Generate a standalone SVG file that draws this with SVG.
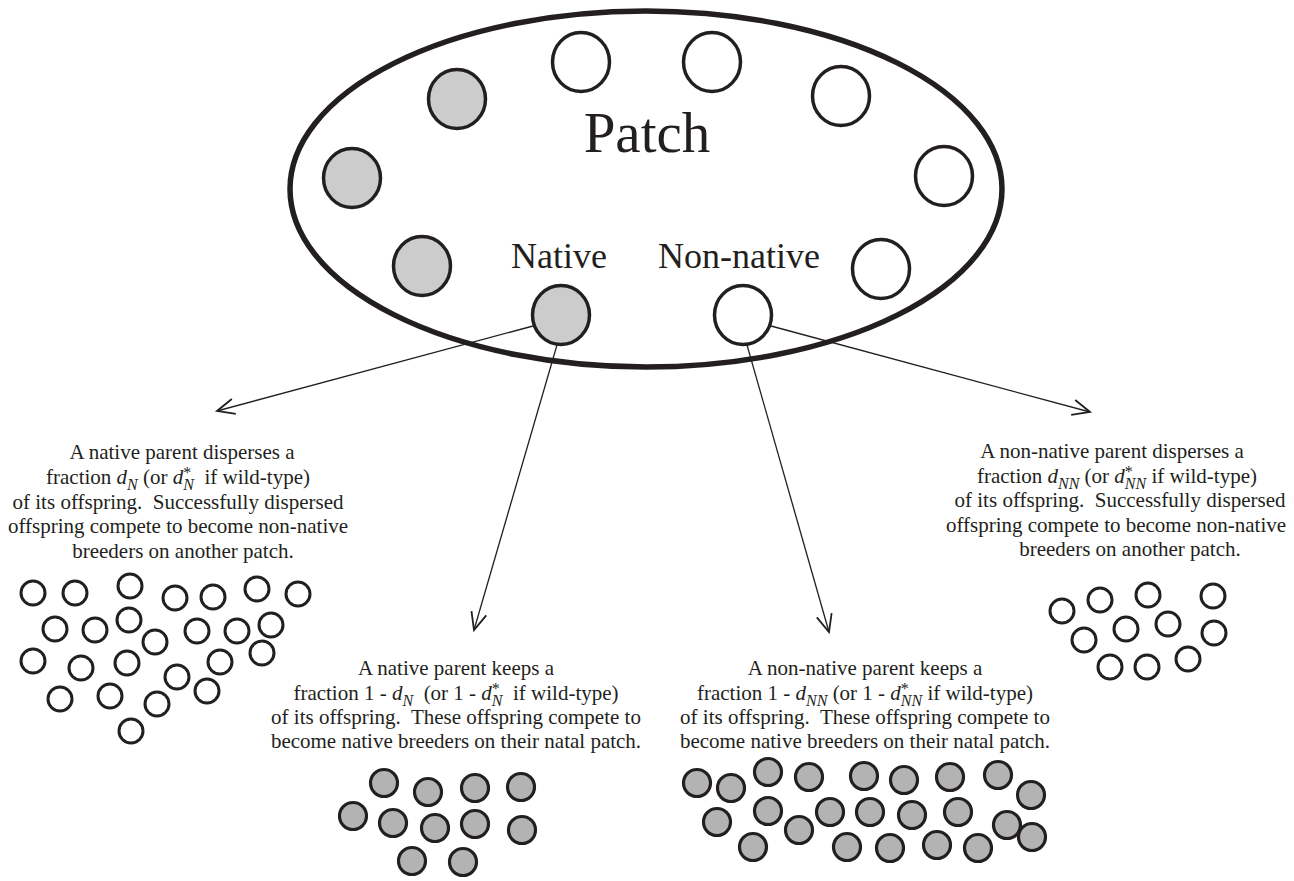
<svg xmlns="http://www.w3.org/2000/svg" width="1294" height="881" viewBox="0 0 1294 881">
<style>
.bg{fill:#ffffff}
.patch{fill:none;stroke:#231f20;stroke-width:5.5}
.pw{fill:#ffffff;stroke:#231f20;stroke-width:3.5}
.pg{fill:#cccccc;stroke:#231f20;stroke-width:3.5}
.cw{fill:#ffffff;stroke:#231f20;stroke-width:3}
.cg{fill:#b3b3b3;stroke:#231f20;stroke-width:3.2}
.conn{fill:none;stroke:#231f20;stroke-width:1.3}
.t{font-family:"Liberation Serif","Times New Roman",serif;font-size:21px;fill:#231f20;text-anchor:middle;white-space:pre}
.big{font-family:"Liberation Serif","Times New Roman",serif;fill:#231f20;text-anchor:middle}
.i{font-style:italic}
.sub{font-size:16px;font-style:italic}
.sup{font-size:16px}
</style>
<defs>
<marker id="arr" markerUnits="userSpaceOnUse" markerWidth="24" markerHeight="22" refX="17.4" refY="9.2" orient="auto" overflow="visible">
<path d="M0,1.5 L17.4,9.2 L0,16.9" fill="none" stroke="#231f20" stroke-width="1.8"/>
</marker>
</defs>
<rect class="bg" x="0" y="0" width="1294" height="881"/>

<g id="patch">
<ellipse class="patch" cx="646" cy="189" rx="356" ry="178"/>
<text class="big" x="647" y="152" font-size="57">Patch</text>
</g>

<g id="connectors">
<line class="conn" x1="533" y1="326" x2="217" y2="411" marker-end="url(#arr)"/>
<line class="conn" x1="557" y1="345" x2="474" y2="630" marker-end="url(#arr)"/>
<line class="conn" x1="747" y1="345" x2="829" y2="632" marker-end="url(#arr)"/>
<line class="conn" x1="771" y1="326" x2="1090" y2="412" marker-end="url(#arr)"/>
</g>

<g id="patch-breeders">
<ellipse class="pg" cx="457" cy="99" rx="28.5" ry="29.5"/>
<ellipse class="pg" cx="352" cy="178" rx="28.5" ry="29.5"/>
<ellipse class="pg" cx="422" cy="266" rx="28.5" ry="29.5"/>
<ellipse class="pw" cx="581" cy="62" rx="28.5" ry="29.5"/>
<ellipse class="pw" cx="712" cy="62" rx="28.5" ry="29.5"/>
<ellipse class="pw" cx="841" cy="96" rx="28.5" ry="29.5"/>
<ellipse class="pw" cx="944" cy="176" rx="28.5" ry="29.5"/>
<ellipse class="pw" cx="881" cy="269" rx="28.5" ry="29.5"/>
</g>

<g id="native">
<ellipse class="pg" cx="561" cy="315" rx="28.5" ry="29.5"/>
<text class="big" x="559" y="268" font-size="36">Native</text>
</g>

<g id="non-native">
<ellipse class="pw" cx="743" cy="315" rx="28.5" ry="29.5"/>
<text class="big" x="739" y="268" font-size="36">Non-native</text>
</g>

<g id="native-disperse">
<text class="t" x="182" y="459">A native parent disperses a</text>
<text class="t" x="178" y="484">fraction <tspan class="i">d</tspan><tspan class="sub" dy="6">N</tspan><tspan dy="-6"> (or </tspan><tspan class="i">d</tspan><tspan class="sup" dy="-6">*</tspan><tspan class="sub" dx="-8" dy="12">N</tspan><tspan dy="-6">  if wild-type)</tspan></text>
<text class="t" x="178" y="509">of its offspring.  Successfully dispersed</text>
<text class="t" x="178" y="533">offspring compete to become non-native</text>
<text class="t" x="183" y="558">breeders on another patch.</text>
<g id="native-disperse-offspring">
<circle class="cw" cx="33" cy="593" r="12"/>
<circle class="cw" cx="75" cy="593" r="12"/>
<circle class="cw" cx="130" cy="586" r="12"/>
<circle class="cw" cx="175" cy="598" r="12"/>
<circle class="cw" cx="213" cy="597" r="12"/>
<circle class="cw" cx="257" cy="589" r="12"/>
<circle class="cw" cx="298" cy="594" r="12"/>
<circle class="cw" cx="55" cy="629" r="12"/>
<circle class="cw" cx="95" cy="630" r="12"/>
<circle class="cw" cx="129" cy="620" r="12"/>
<circle class="cw" cx="155" cy="642" r="12"/>
<circle class="cw" cx="197" cy="631" r="12"/>
<circle class="cw" cx="237" cy="631" r="12"/>
<circle class="cw" cx="271" cy="625" r="12"/>
<circle class="cw" cx="262" cy="653" r="12"/>
<circle class="cw" cx="33" cy="661" r="12"/>
<circle class="cw" cx="81" cy="668" r="12"/>
<circle class="cw" cx="127" cy="663" r="12"/>
<circle class="cw" cx="177" cy="677" r="12"/>
<circle class="cw" cx="220" cy="662" r="12"/>
<circle class="cw" cx="207" cy="691" r="12"/>
<circle class="cw" cx="60" cy="699" r="12"/>
<circle class="cw" cx="110" cy="696" r="12"/>
<circle class="cw" cx="157" cy="704" r="12"/>
<circle class="cw" cx="131" cy="731" r="12"/>
</g>
</g>

<g id="native-keep">
<text class="t" x="456" y="675">A native parent keeps a</text>
<text class="t" x="456" y="700">fraction 1 - <tspan class="i">d</tspan><tspan class="sub" dy="6">N</tspan><tspan dy="-6">  (or 1 - </tspan><tspan class="i">d</tspan><tspan class="sup" dy="-6">*</tspan><tspan class="sub" dx="-8" dy="12">N</tspan><tspan dy="-6">  if wild-type)</tspan></text>
<text class="t" x="456" y="724">of its offspring.  These offspring compete to</text>
<text class="t" x="456" y="748">become native breeders on their natal patch.</text>
<g id="native-keep-offspring">
<circle class="cg" cx="384" cy="783" r="13.5"/>
<circle class="cg" cx="428" cy="792" r="13.5"/>
<circle class="cg" cx="475" cy="788" r="13.5"/>
<circle class="cg" cx="521" cy="787" r="13.5"/>
<circle class="cg" cx="353" cy="816" r="13.5"/>
<circle class="cg" cx="393" cy="823" r="13.5"/>
<circle class="cg" cx="435" cy="828" r="13.5"/>
<circle class="cg" cx="475" cy="824" r="13.5"/>
<circle class="cg" cx="522" cy="830" r="13.5"/>
<circle class="cg" cx="412" cy="861" r="13.5"/>
<circle class="cg" cx="463" cy="862" r="13.5"/>
</g>
</g>

<g id="nonnative-keep">
<text class="t" x="865" y="675">A non-native parent keeps a</text>
<text class="t" x="865" y="700">fraction 1 - <tspan class="i">d</tspan><tspan class="sub" dy="6">NN</tspan><tspan dy="-6"> (or 1 - </tspan><tspan class="i">d</tspan><tspan class="sup" dy="-6">*</tspan><tspan class="sub" dx="-8" dy="12">NN</tspan><tspan dy="-6"> if wild-type)</tspan></text>
<text class="t" x="865" y="724">of its offspring.  These offspring compete to</text>
<text class="t" x="865" y="748">become native breeders on their natal patch.</text>
<g id="nonnative-keep-offspring">
<circle class="cg" cx="697" cy="783" r="13.5"/>
<circle class="cg" cx="731" cy="788" r="13.5"/>
<circle class="cg" cx="768" cy="772" r="13.5"/>
<circle class="cg" cx="809" cy="777" r="13.5"/>
<circle class="cg" cx="864" cy="776" r="13.5"/>
<circle class="cg" cx="904" cy="780" r="13.5"/>
<circle class="cg" cx="950" cy="777" r="13.5"/>
<circle class="cg" cx="998" cy="775" r="13.5"/>
<circle class="cg" cx="1031" cy="795" r="13.5"/>
<circle class="cg" cx="717" cy="822" r="13.5"/>
<circle class="cg" cx="768" cy="811" r="13.5"/>
<circle class="cg" cx="799" cy="830" r="13.5"/>
<circle class="cg" cx="830" cy="812" r="13.5"/>
<circle class="cg" cx="870" cy="812" r="13.5"/>
<circle class="cg" cx="912" cy="815" r="13.5"/>
<circle class="cg" cx="958" cy="812" r="13.5"/>
<circle class="cg" cx="1007" cy="825" r="13.5"/>
<circle class="cg" cx="1032" cy="837" r="13.5"/>
<circle class="cg" cx="753" cy="847" r="13.5"/>
<circle class="cg" cx="847" cy="847" r="13.5"/>
<circle class="cg" cx="890" cy="848" r="13.5"/>
<circle class="cg" cx="937" cy="845" r="13.5"/>
<circle class="cg" cx="978" cy="848" r="13.5"/>
</g>
</g>

<g id="nonnative-disperse">
<text class="t" x="1112" y="458">A non-native parent disperses a</text>
<text class="t" x="1117" y="483">fraction <tspan class="i">d</tspan><tspan class="sub" dy="6">NN</tspan><tspan dy="-6"> (or </tspan><tspan class="i">d</tspan><tspan class="sup" dy="-6">*</tspan><tspan class="sub" dx="-8" dy="12">NN</tspan><tspan dy="-6"> if wild-type)</tspan></text>
<text class="t" x="1120" y="507">of its offspring.  Successfully dispersed</text>
<text class="t" x="1116" y="532">offspring compete to become non-native</text>
<text class="t" x="1130" y="556">breeders on another patch.</text>
<g id="nonnative-disperse-offspring">
<circle class="cw" cx="1062" cy="611" r="12"/>
<circle class="cw" cx="1100" cy="600" r="12"/>
<circle class="cw" cx="1148" cy="595" r="12"/>
<circle class="cw" cx="1213" cy="596" r="12"/>
<circle class="cw" cx="1084" cy="640" r="12"/>
<circle class="cw" cx="1126" cy="629" r="12"/>
<circle class="cw" cx="1168" cy="624" r="12"/>
<circle class="cw" cx="1214" cy="633" r="12"/>
<circle class="cw" cx="1110" cy="667" r="12"/>
<circle class="cw" cx="1147" cy="667" r="12"/>
<circle class="cw" cx="1188" cy="659" r="12"/>
</g>
</g>
</svg>
